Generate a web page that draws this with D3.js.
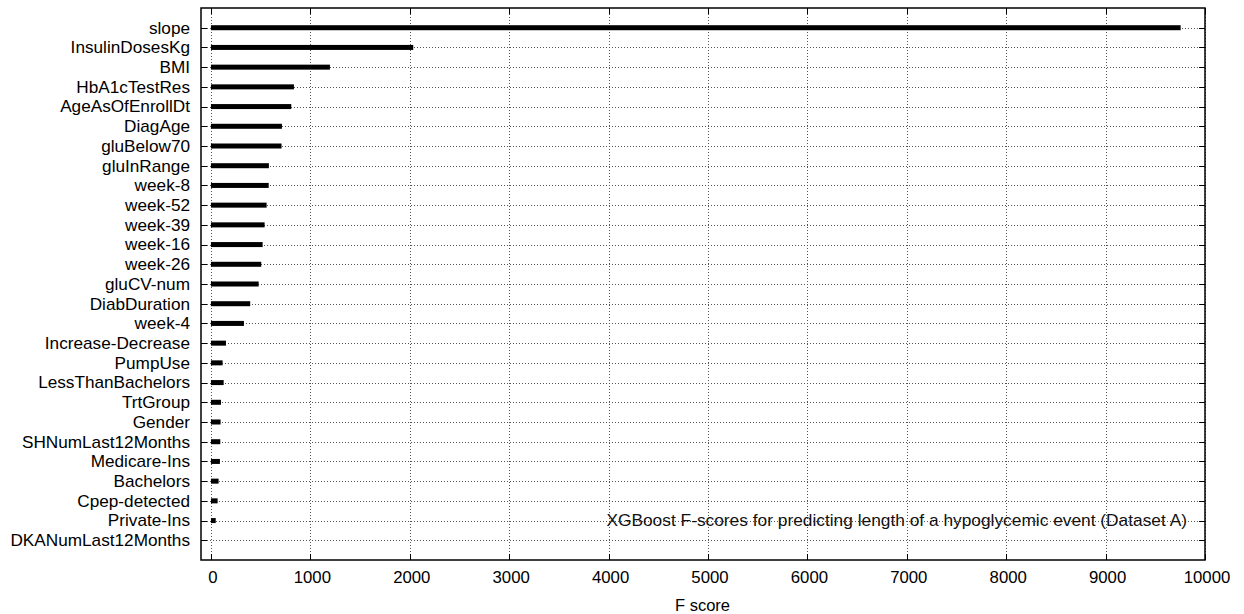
<!DOCTYPE html>
<html>
<head>
<meta charset="utf-8">
<script src="https://cdn.jsdelivr.net/npm/d3@7"></script>
<style>
  html, body { margin: 0; padding: 0; background: #fff; }
  svg { display: block; font-family: "Liberation Sans", Arial, sans-serif; }
</style>
</head>
<body>
<svg id="chart" width="1244" height="614"></svg>
<script>
const categories = ["slope","InsulinDosesKg","BMI","HbA1cTestRes","AgeAsOfEnrollDt","DiagAge","gluBelow70","gluInRange","week-8","week-52","week-39","week-16","week-26","gluCV-num","DiabDuration","week-4","Increase-Decrease","PumpUse","LessThanBachelors","TrtGroup","Gender","SHNumLast12Months","Medicare-Ins","Bachelors","Cpep-detected","Private-Ins","DKANumLast12Months"];
const fscores = [9755,2035,1197,835,808,714,710,583,581,560,540,520,506,480,395,332,151,117,128,101,97,94,90,77,67,48,0];
const xTicks = [0,1000,2000,3000,4000,5000,6000,7000,8000,9000,10000];
const xLabel = "F score";
const note = "XGBoost F-scores for predicting length of a hypoglycemic event (Dataset A)";

const svg = d3.select("#chart");
const L = 201, R = 1205, T = 8, B = 560;
const FS = 16.2;

const x = d3.scaleLinear().domain([-100, 10000]).range([L, R]);
const y = d3.scalePoint().domain(categories).range([T, B]).padding(1);

function stretched(sel, px, py, sx) {
  return sel.attr("x", 0).attr("y", 0)
    .attr("transform", (d, i) => `translate(${px(d, i)},${py(d, i)}) scale(${sx},1)`);
}

const grid = svg.append("g").attr("stroke", "#555").attr("stroke-width", 1).attr("stroke-dasharray", "1,2");
grid.selectAll("line.v").data(xTicks).join("line")
  .attr("x1", d => Math.round(x(d)) + 0.5).attr("x2", d => Math.round(x(d)) + 0.5)
  .attr("y1", T).attr("y2", B);
grid.selectAll("line.h").data(categories).join("line")
  .attr("x1", L).attr("x2", R)
  .attr("y1", d => Math.round(y(d)) + 0.5).attr("y2", d => Math.round(y(d)) + 0.5);

// annotation
stretched(svg.append("text").datum(note), () => 1187, () => y("Private-Ins") + 0.36 * FS, 1.07)
  .attr("text-anchor", "end").attr("font-size", FS).attr("fill", "#111").text(d => d);

// bars
svg.append("g").selectAll("rect").data(categories).join("rect")
  .attr("x", x(0))
  .attr("y", d => y(d) - 2.5)
  .attr("width", (d, i) => Math.max(0, x(fscores[i]) - x(0)))
  .attr("height", 5)
  .attr("fill", "#000");

// ticks (inward, both sides)
const tk = svg.append("g").attr("stroke", "#000").attr("stroke-width", 1);
tk.selectAll("line.b").data(xTicks).join("line")
  .attr("x1", d => Math.round(x(d)) + 0.5).attr("x2", d => Math.round(x(d)) + 0.5)
  .attr("y1", B).attr("y2", B - 6);
tk.selectAll("line.t").data(xTicks).join("line")
  .attr("x1", d => Math.round(x(d)) + 0.5).attr("x2", d => Math.round(x(d)) + 0.5)
  .attr("y1", T).attr("y2", T + 6);
tk.selectAll("line.l").data(categories).join("line")
  .attr("x1", L).attr("x2", L + 6)
  .attr("y1", d => Math.round(y(d)) + 0.5).attr("y2", d => Math.round(y(d)) + 0.5);
tk.selectAll("line.r").data(categories).join("line")
  .attr("x1", R).attr("x2", R - 6)
  .attr("y1", d => Math.round(y(d)) + 0.5).attr("y2", d => Math.round(y(d)) + 0.5);

// frame
svg.append("rect").attr("x", L).attr("y", T).attr("width", R - L).attr("height", B - T)
  .attr("fill", "none").attr("stroke", "#000").attr("stroke-width", 1.5);

// y labels
stretched(svg.append("g").selectAll("text").data(categories).join("text"),
  () => 190, d => y(d) + 0.36 * FS, 1.062)
  .attr("text-anchor", "end").attr("font-size", FS).attr("fill", "#000").text(d => d);

// x tick labels
stretched(svg.append("g").selectAll("text").data(xTicks).join("text"),
  d => x(d) + 2, () => 583, 1.035)
  .attr("text-anchor", "middle").attr("font-size", FS).attr("fill", "#000").text(d => d);

// x label
stretched(svg.append("text").datum(xLabel), () => 702.5, () => 610.5, 1.02)
  .attr("text-anchor", "middle").attr("font-size", FS).attr("fill", "#000").text(d => d);
</script>
</body>
</html>
